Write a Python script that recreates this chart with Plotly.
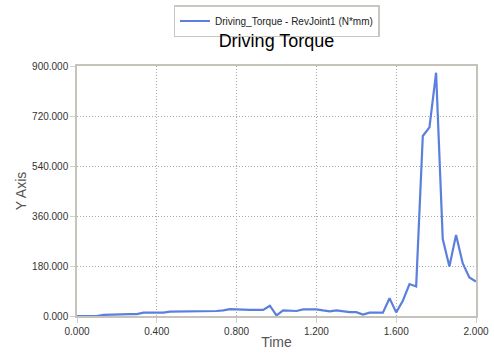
import plotly.graph_objects as go

time = [i / 30 for i in range(61)]
torque = [0, 0, 0, 0, 4, 5, 7, 7, 7, 7,
          12, 12, 12, 12, 16, 16, 16, 16, 16, 18,
          18, 18, 20, 25, 24, 22, 22, 22, 22, 37,
          2, 20, 18, 18, 24, 24, 24, 20, 17, 20,
          16, 14, 14, 5, 12, 12, 12, 64, 13, 55,
          115, 106, 648, 679, 876, 277, 178, 292, 190, 139,
          124]
x_ticks = [0, 0.4, 0.8, 1.2, 1.6, 2.0]
x_tick_labels = ["0.000", "0.400", "0.800", "1.200", "1.600", "2.000"]
y_ticks = [0, 180, 360, 540, 720, 900]
y_tick_labels = ["0.000", "180.000", "360.000", "540.000", "720.000", "900.000"]

fig = go.Figure()
fig.add_trace(go.Scatter(
    x=time, y=torque, mode="lines",
    name="Driving_Torque - RevJoint1 (N*mm)",
    line=dict(color="#5a7fdc", width=2.2),
))

font_family = "Liberation Sans, Arial, sans-serif"
axis_common = dict(
    showline=True, mirror=True, linecolor="#c4c4bc", linewidth=1.5,
    showgrid=True, gridcolor="#a8a8a0", griddash="1px,2px", gridwidth=1,
    zeroline=False, ticks="outside", ticklen=5, tickcolor="#d0d0c8",
    automargin=False,
    tickfont=dict(family=font_family, size=10, color="#333333"),
)

fig.update_layout(
    width=494, height=353,
    margin=dict(l=77, r=18, t=66, b=37, autoexpand=False),
    paper_bgcolor="white", plot_bgcolor="white",
    title=dict(text="Driving Torque", x=0.5, xref="paper", xanchor="center",
               y=1 - 41 / 353, yref="container", yanchor="middle",
               font=dict(family=font_family, size=18, color="#000000")),
    showlegend=True,
    legend=dict(x=0.5, xanchor="center", y=1.244, yanchor="top",
                bordercolor="#c8c8c0", borderwidth=1.5, bgcolor="white",
                font=dict(family=font_family, size=10, color="#222222"),
                itemwidth=30),
    xaxis=dict(range=[0, 2.0], tickvals=x_ticks, ticktext=x_tick_labels,
               title=dict(text="Time", standoff=1,
                          font=dict(family=font_family, size=14, color="#555555")),
               **axis_common),
    yaxis=dict(range=[0, 900], tickvals=y_ticks, ticktext=y_tick_labels,
               title=dict(text="Y Axis", standoff=2,
                          font=dict(family=font_family, size=14, color="#555555")),
               **axis_common),
)

fig.write_html("out.html", config={"displayModeBar": False},
               post_script="document.body.style.margin='0';document.body.style.padding='0';")
